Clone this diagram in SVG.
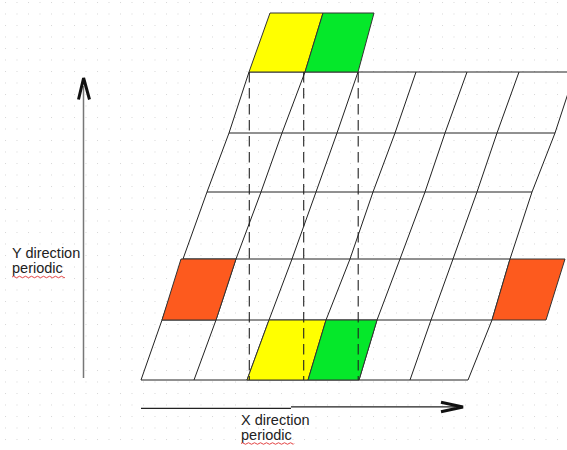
<svg xmlns="http://www.w3.org/2000/svg" width="567" height="450" viewBox="0 0 567 450">
  <defs>
    <pattern id="dots" x="5" y="2" width="11.5" height="11.5" patternUnits="userSpaceOnUse">
      <rect x="0" y="0" width="1" height="1" fill="#d6d6d6"/>
    </pattern>
    <style>
      .grid { fill: none; stroke: #222; stroke-width: 1; }
      .dash { fill: none; stroke: #222; stroke-width: 1.1; stroke-dasharray: 10.5 5.5; }
      .cell { stroke: #333; stroke-width: 1; }
      .yellow { fill: #ffff00; }
      .green { fill: #05e82a; }
      .orange { fill: #fd5a1e; }
      .label { font-family: "Liberation Sans", Arial, sans-serif; font-size: 14.5px; fill: #222; }
      .squiggle { fill: none; stroke: #e03030; stroke-width: 0.9; }
      .head { fill: none; stroke: #111; stroke-width: 3; stroke-linejoin: miter; stroke-linecap: butt; }
    </style>
  </defs>
  <rect width="567" height="450" fill="#ffffff"/>
  <rect width="567" height="450" fill="url(#dots)"/>

  <g id="grid">
    <line class="grid" x1="249" y1="72" x2="575" y2="72"/>
    <line class="grid" x1="229" y1="133" x2="555" y2="133"/>
    <line class="grid" x1="207" y1="192" x2="532" y2="192"/>
    <line class="grid" x1="183" y1="259" x2="510" y2="259"/>
    <line class="grid" x1="162" y1="320" x2="492" y2="320"/>
    <line class="grid" x1="141" y1="380" x2="468" y2="380"/>
    <polyline class="grid" points="249,72 229,133 207,192 183,259 162,320 141,380"/>
    <polyline class="grid" points="305,72 282,133 261,192 236,259 216,320 194,380"/>
    <polyline class="grid" points="358,72 337,133 316,192 292,259 269,320 247,380"/>
    <polyline class="grid" points="416,72 395,133 373,192 350,259 326,320 308,380"/>
    <polyline class="grid" points="467,72 445,133 425,192 400,259 377,320 359,380"/>
    <polyline class="grid" points="519,72 497,133 477,192 453,259 431,320 410,380"/>
    <polyline class="grid" points="575,72 555,133 532,192 510,259 492,320 468,380"/>
  </g>

  <g id="cells">
    <g id="cell-top-yellow"><polygon class="cell yellow" points="270,13 323,13 305,72 249,72"/></g>
    <g id="cell-top-green"><polygon class="cell green" points="323,13 374,13 358,72 305,72"/></g>
    <g id="cell-bottom-yellow"><polygon class="cell yellow" points="269,320 326,320 308,380 247,380"/></g>
    <g id="cell-bottom-green"><polygon class="cell green" points="326,320 377,320 359,380 308,380"/></g>
    <g id="cell-left-orange"><polygon class="cell orange" points="181,259 236,259 216,320 162,320"/></g>
    <g id="cell-right-orange"><polygon class="cell orange" points="510,259 565,259 546,320 492,320"/></g>
  </g>

  <g id="connectors">
    <line class="dash" x1="249.3" y1="72" x2="249.3" y2="380"/>
    <line class="dash" x1="303.7" y1="72" x2="303.7" y2="380"/>
    <line class="dash" x1="358.2" y1="72" x2="358.2" y2="380"/>
    <line x1="83.5" y1="378" x2="83.5" y2="86" stroke="#777" stroke-width="1.5"/>
    <polyline class="head" points="78.5,99.5 83.6,78 89.5,99.5"/>
    <path d="M141,408.3 L291,408.3 M291,406.9 L459,406.9" fill="none" stroke="#222" stroke-width="1.2"/>
    <polyline class="head" points="441,402.3 463,407 441,411.7"/>
  </g>

  <g id="labels">
    <text class="label" x="12" y="258.3">Y direction</text>
    <text class="label" x="12" y="273.3">periodic</text>
    <path class="squiggle" d="M12,277 q1.5,-1.5 3,0 t3,0 t3,0 t3,0 t3,0 t3,0 t3,0 t3,0 t3,0 t3,0 t3,0 t3,0 t3,0 t3,0 t3,0 t3,0 t3,0 t2,0"/>
    <text class="label" x="241" y="425">X direction</text>
    <text class="label" x="241" y="440">periodic</text>
    <path class="squiggle" d="M241,443.5 q1.5,-1.5 3,0 t3,0 t3,0 t3,0 t3,0 t3,0 t3,0 t3,0 t3,0 t3,0 t3,0 t3,0 t3,0 t3,0 t3,0 t3,0 t3,0 t2,0"/>
  </g>
</svg>
